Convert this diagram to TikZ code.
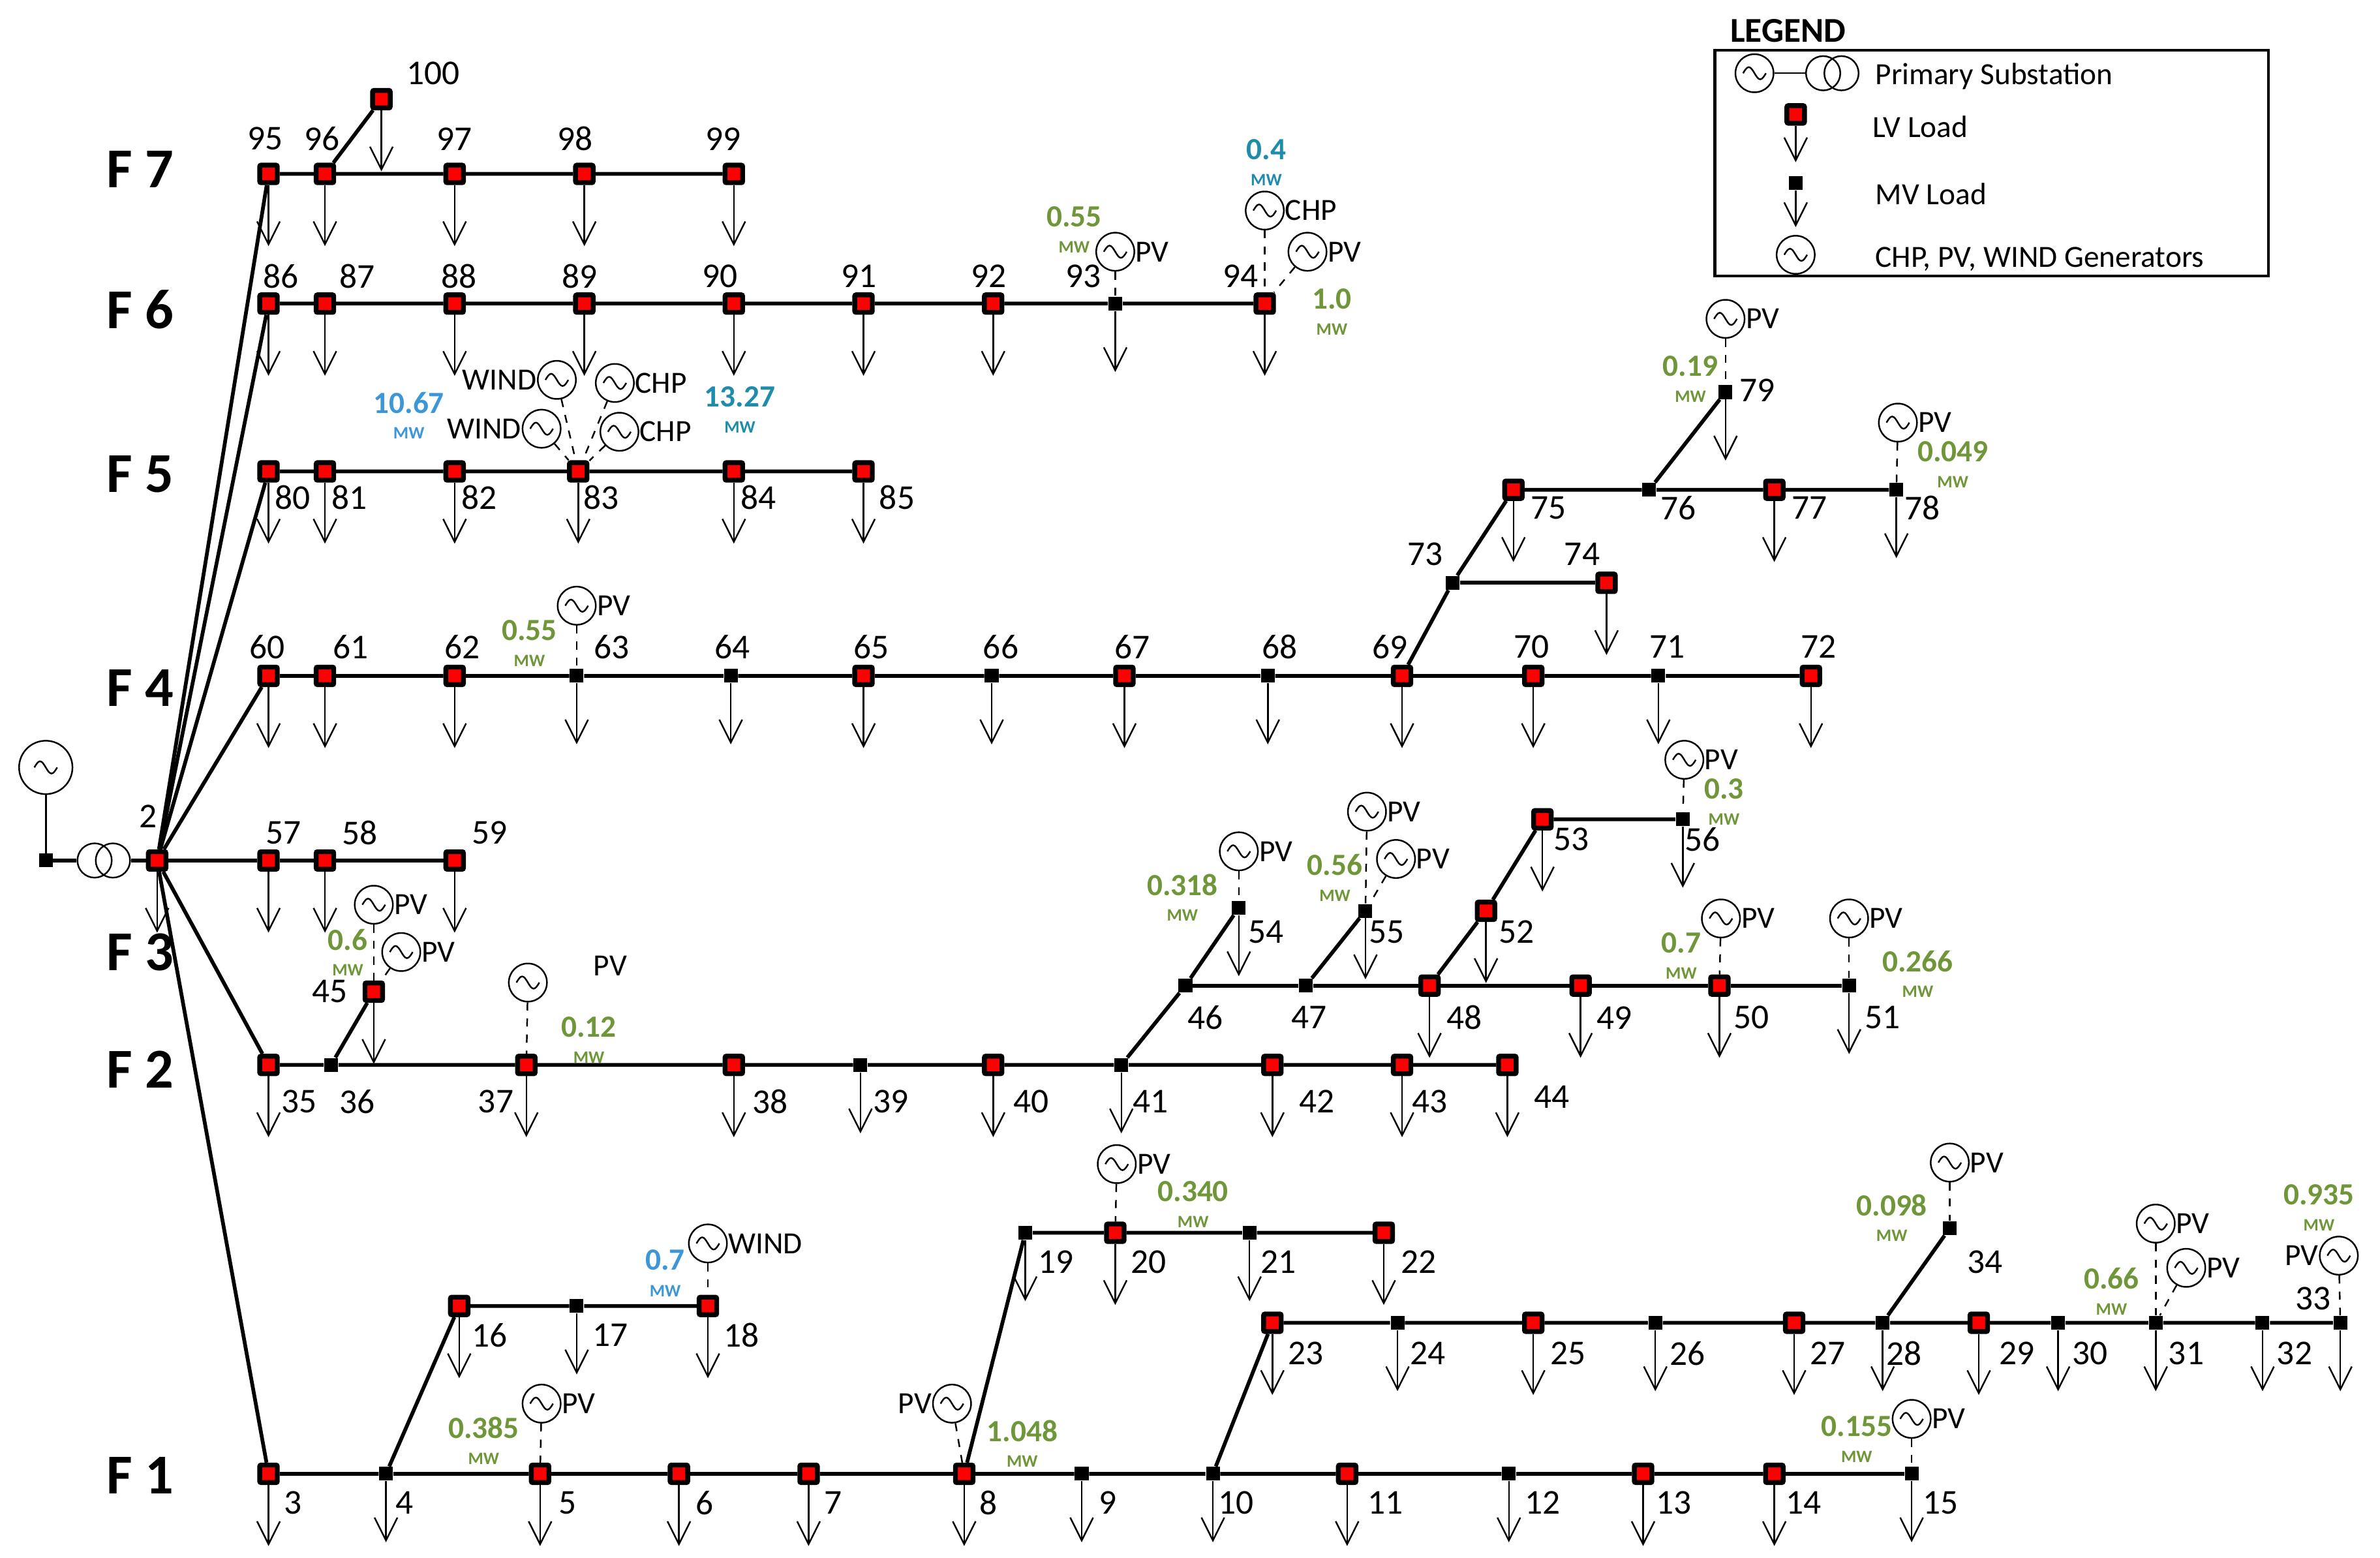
\documentclass[tikz,border=0pt]{standalone}
\usepackage{fontspec}
\setmainfont{Carlito}
\usetikzlibrary{arrows.meta}
\definecolor{vgreen}{RGB}{112,150,58}
\definecolor{vblue}{RGB}{60,150,215}
\definecolor{vteal}{RGB}{30,140,170}
\tikzset{
 lv/.style={draw=black,fill=red,line width=1.8pt,minimum size=0.23cm,inner sep=0pt,rounded corners=0.5pt},
 mv/.style={fill=black,minimum size=0.18cm,inner sep=0pt},
 feed/.style={line width=1.4pt},
 load/.style={line width=0.6pt,-{Straight Barb[length=0.3cm,width=0.3cm,line width=0.6pt]}},
 gen/.style={circle,draw,line width=0.6pt,minimum size=0.5cm,inner sep=0pt,path picture={\draw[line width=0.6pt] ([xshift=-0.15cm]path picture bounding box.center) sin ++(0.075cm,0.08cm) cos ++(0.075cm,-0.08cm) sin ++(0.075cm,-0.08cm) cos ++(0.075cm,0.08cm);}},
 gl/.style={dashed,line width=0.6pt},
 num/.style={font=\fontsize{13}{15}\selectfont,inner sep=0pt},
 fl/.style={font=\bfseries\fontsize{21}{24}\selectfont,inner sep=0pt},
 val/.style={font=\bfseries\fontsize{11.5}{13}\selectfont,inner sep=0pt},
 mw/.style={font=\bfseries\fontsize{6.5}{7}\selectfont,inner sep=0pt},
 gt/.style={font=\fontsize{11.5}{13}\selectfont,inner sep=0pt},
}
\newcommand\LV[3]{\node[lv] (n#1) at (#2,#3) {};}
\newcommand\MV[3]{\node[mv] (n#1) at (#2,#3) {};}
\newcommand\ld[1]{\draw[load] (n#1.south) -- ++(0,40);}
\newcommand\nl[3]{\node[num] (l#1) at (#2,#3) {#1};}
\newcommand\GR[5]{\node[gen] (#1) at (#2,#3) {}; \draw[gl] (#1) -- (n#4); \node[gt,anchor=west] (#1t) at (#1.east) {#5};}
\newcommand\GL[5]{\node[gen] (#1) at (#2,#3) {}; \draw[gl] (#1) -- (n#4); \node[gt,anchor=east] (#1t) at (#1.west) {#5};}
\newcommand\V[5]{\node[val,text=#2] (#1) at (#3,#4) {#5}; \node[mw,text=#2] (#1m) at (#3,#4+20) {MW};}
\begin{document}
\begin{tikzpicture}[x=0.02cm,y=-0.02cm]
\useasboundingbox (0,0) rectangle (1560,1021);
% substation
\node[gen,minimum size=0.7cm] (sg) at (30,503) {};
\node[mv] (s0) at (30,564) {};
\draw[line width=0.8pt] (sg) -- (s0);
\node[circle,draw,line width=0.6pt,minimum size=0.45cm] (t1) at (62,564) {};
\node[circle,draw,line width=0.6pt,minimum size=0.45cm] (t2) at (74,564) {};
\LV{2}{103}{564} \nl{2}{97}{535} \ld{2}
\draw[feed] (s0) -- (t1); \draw[feed] (t2) -- (n2);
% feeder labels
\node[fl] (F7) at (92,111) {F 7};
\node[fl] (F6) at (92,203) {F 6};
\node[fl] (F5) at (92,311) {F 5};
\node[fl] (F4) at (92,451) {F 4};
\node[fl] (F3) at (92,624) {F 3};
\node[fl] (F2) at (92,701) {F 2};
\node[fl] (F1) at (92,967) {F 1};
% F7
\LV{95}{176}{114} \LV{96}{213}{114} \LV{97}{298}{114} \LV{98}{383}{114} \LV{99}{481}{114} \LV{100}{250}{65}
\nl{95}{174}{91} \nl{96}{211}{91} \nl{97}{298}{91} \nl{98}{377}{91} \nl{99}{474}{91} \nl{100}{284}{48}
\draw[feed] (n2)--(n95)--(n96)--(n97)--(n98)--(n99); \draw[feed] (n96)--(n100);
\foreach \i in {95,...,100} {\ld{\i}}
% F6
\LV{86}{176}{199} \LV{87}{213}{199} \LV{88}{298}{199} \LV{89}{383}{199} \LV{90}{481}{199} \LV{91}{566}{199} \LV{92}{651}{199} \MV{93}{731}{199} \LV{94}{829}{199}
\nl{86}{184}{181} \nl{87}{234}{181} \nl{88}{301}{181} \nl{89}{380}{181} \nl{90}{472}{181} \nl{91}{563}{181} \nl{92}{648}{181} \nl{93}{710}{181} \nl{94}{813}{181}
\draw[feed] (n2)--(n86)--(n87)--(n88)--(n89)--(n90)--(n91)--(n92)--(n93)--(n94);
\foreach \i in {86,...,94} {\ld{\i}}
\GR{g93}{731}{165}{93}{PV} \V{v93}{vgreen}{704}{142}{0.55}
\GR{g94a}{829}{138}{94}{CHP} \V{v94a}{vteal}{830}{98}{0.4}
\GR{g94b}{857}{165}{94}{PV} \V{v94b}{vgreen}{873}{196}{1.0}
% F5
\LV{80}{176}{309} \LV{81}{213}{309} \LV{82}{298}{309} \LV{83}{379}{309} \LV{84}{481}{309} \LV{85}{566}{309}
\nl{80}{192}{326} \nl{81}{229}{326} \nl{82}{314}{326} \nl{83}{394}{326} \nl{84}{497}{326} \nl{85}{588}{326}
\draw[feed] (n2)--(n80)--(n81)--(n82)--(n83)--(n84)--(n85);
\foreach \i in {80,...,85} {\ld{\i}}
\GL{g83a}{365}{249}{83}{WIND} \GR{g83b}{403}{251}{83}{CHP}
\GL{g83c}{355}{281}{83}{WIND} \GR{g83d}{406}{283}{83}{CHP}
\V{v83a}{vblue}{268}{264}{10.67} \V{v83b}{vteal}{485}{260}{13.27}
% F4
\LV{60}{176}{443} \LV{61}{213}{443} \LV{62}{298}{443} \MV{63}{378}{443} \MV{64}{479}{443} \LV{65}{566}{443} \MV{66}{650}{443} \LV{67}{737}{443} \MV{68}{831}{443} \LV{69}{919}{443} \LV{70}{1005}{443} \MV{71}{1087}{443} \LV{72}{1187}{443}
\nl{60}{175}{424} \nl{61}{230}{424} \nl{62}{303}{424} \nl{63}{401}{424} \nl{64}{480}{424} \nl{65}{571}{424} \nl{66}{656}{424} \nl{67}{742}{424} \nl{68}{839}{424} \nl{69}{911}{424} \nl{70}{1004}{424} \nl{71}{1093}{424} \nl{72}{1192}{424}
\draw[feed] (n2)--(n60)--(n61)--(n62)--(n63)--(n64)--(n65)--(n66)--(n67)--(n68)--(n69)--(n70)--(n71)--(n72);
\foreach \i in {60,...,72} {\ld{\i}}
\GR{g63}{378}{397}{63}{PV} \V{v63}{vgreen}{347}{413}{0.55}
\MV{73}{952}{382} \LV{74}{1053}{382} \LV{75}{992}{321} \MV{76}{1081}{321} \LV{77}{1163}{321} \MV{78}{1243}{321} \MV{79}{1131}{257}
\nl{73}{934}{363} \nl{74}{1037}{363} \nl{75}{1015}{333} \nl{76}{1100}{333} \nl{77}{1186}{333} \nl{78}{1260}{333} \nl{79}{1152}{256}
\draw[feed] (n69)--(n73)--(n75)--(n76)--(n77)--(n78); \draw[feed] (n73)--(n74); \draw[feed] (n76)--(n79);
\ld{74} \ld{75} \ld{77} \ld{78} \ld{79}
\GR{g79}{1131}{209}{79}{PV} \V{v79}{vgreen}{1108}{240}{0.19}
\GR{g78}{1244}{277}{78}{PV} \V{v78}{vgreen}{1280}{296}{0.049}
% F3
\LV{57}{176}{564} \LV{58}{213}{564} \LV{59}{298}{564}
\nl{57}{186}{546} \nl{58}{236}{546} \nl{59}{321}{546}
\draw[feed] (n2)--(n57)--(n58)--(n59);
\ld{57} \ld{58} \ld{59}
% F2
\LV{35}{176}{698} \MV{36}{217}{698} \LV{37}{345}{698} \LV{38}{481}{698} \MV{39}{564}{698} \LV{40}{651}{698} \MV{41}{735}{698} \LV{42}{834}{698} \LV{43}{919}{698} \LV{44}{988}{698}
\nl{35}{196}{722} \nl{36}{234}{722} \nl{37}{325}{722} \nl{38}{505}{722} \nl{39}{584}{722} \nl{40}{676}{722} \nl{41}{754}{722} \nl{42}{863}{722} \nl{43}{937}{722} \nl{44}{1017}{719}
\draw[feed] (n2)--(n35)--(n36)--(n37)--(n38)--(n39)--(n40)--(n41)--(n42)--(n43)--(n44);
\ld{35} \ld{37} \ld{38} \ld{39} \ld{40} \ld{41} \ld{42} \ld{43} \ld{44}
\LV{45}{245}{650} \nl{45}{216}{650} \draw[feed] (n36)--(n45); \ld{45}
\GR{g45a}{245}{593}{45}{PV} \GR{g45b}{263}{624}{45}{PV} \V{v45}{vgreen}{228}{616}{0.6}
\node[gen] (g37) at (346,644) {}; \draw[gl] (g37)--(n37); \node[gt] (g37t) at (400,633) {PV}; \V{v37}{vgreen}{386}{673}{0.12}
\MV{46}{777}{646} \MV{54}{812}{595} \MV{47}{856}{646} \LV{48}{937}{646} \LV{49}{1036}{646} \LV{50}{1127}{646} \MV{51}{1212}{646}
\MV{55}{895}{597} \LV{52}{974}{597} \LV{53}{1011}{537} \MV{56}{1103}{537}
\nl{46}{790}{667} \nl{47}{858}{667} \nl{48}{960}{667} \nl{49}{1058}{667} \nl{50}{1148}{667} \nl{51}{1234}{667}
\nl{54}{830}{611} \nl{55}{909}{611} \nl{52}{994}{611} \nl{53}{1030}{550} \nl{56}{1116}{550}
\draw[feed] (n41)--(n46)--(n54); \draw[feed] (n46)--(n47)--(n48)--(n49)--(n50)--(n51);
\draw[feed] (n47)--(n55); \draw[feed] (n48)--(n52)--(n53)--(n56);
\ld{54} \ld{55} \ld{48} \ld{52} \ld{53} \ld{49} \ld{50} \ld{51} \ld{56}
\GR{g54}{812}{558}{54}{PV} \V{v54}{vgreen}{775}{580}{0.318}
\GR{g55a}{896}{532}{55}{PV} \GR{g55b}{915}{563}{55}{PV} \V{v55}{vgreen}{875}{567}{0.56}
\GR{g56}{1104}{498}{56}{PV} \V{v56}{vgreen}{1130}{517}{0.3}
\GR{g50}{1128}{602}{50}{PV} \V{v50}{vgreen}{1102}{618}{0.7}
\GR{g51}{1212}{602}{51}{PV} \V{v51}{vgreen}{1257}{630}{0.266}
% F1
\LV{3}{176}{966} \MV{4}{253}{966} \LV{5}{354}{966} \LV{6}{445}{966} \LV{7}{530}{966} \LV{8}{632}{966} \MV{9}{709}{966} \MV{10}{795}{966} \LV{11}{883}{966} \MV{12}{989}{966} \LV{13}{1077}{966} \LV{14}{1163}{966} \MV{15}{1253}{966}
\nl{3}{192}{985} \nl{4}{265}{985} \nl{5}{372}{985} \nl{6}{462}{985} \nl{7}{546}{985} \nl{8}{648}{985} \nl{9}{726}{985} \nl{10}{810}{985} \nl{11}{908}{985} \nl{12}{1011}{985} \nl{13}{1097}{985} \nl{14}{1182}{985} \nl{15}{1272}{985}
\draw[feed] (n2)--(n3)--(n4)--(n5)--(n6)--(n7)--(n8)--(n9)--(n10)--(n11)--(n12)--(n13)--(n14)--(n15);
\foreach \i in {3,...,15} {\ld{\i}}
\LV{16}{301}{856} \MV{17}{378}{856} \LV{18}{464}{856}
\nl{16}{321}{875} \nl{17}{400}{875} \nl{18}{486}{875}
\draw[feed] (n4)--(n16)--(n17)--(n18); \ld{16} \ld{17} \ld{18}
\GR{g18}{464}{815}{18}{WIND} \V{v18}{vblue}{436}{826}{0.7}
\GR{g5}{355}{920}{5}{PV} \V{v5}{vgreen}{317}{936}{0.385}
\GL{g8}{624}{920}{8}{PV} \V{v8}{vgreen}{670}{938}{1.048}
\GR{g15}{1253}{930}{15}{PV} \V{v15}{vgreen}{1217}{935}{0.155}
\MV{19}{672}{808} \LV{20}{731}{808} \MV{21}{819}{808} \LV{22}{907}{808}
\nl{19}{692}{827} \nl{20}{753}{827} \nl{21}{838}{827} \nl{22}{930}{827}
\draw[feed] (n8)--(n19)--(n20)--(n21)--(n22); \ld{19} \ld{20} \ld{21} \ld{22}
\GR{g20}{732}{763}{20}{PV} \V{v20}{vgreen}{782}{781}{0.340}
\LV{23}{834}{867} \MV{24}{916}{867} \LV{25}{1005}{867} \MV{26}{1085}{867} \LV{27}{1176}{867} \MV{28}{1234}{867} \LV{29}{1297}{867} \MV{30}{1349}{867} \MV{31}{1413}{867} \MV{32}{1483}{867} \MV{33}{1534}{867}
\nl{23}{856}{887} \nl{24}{936}{887} \nl{25}{1028}{887} \nl{26}{1106}{887} \nl{27}{1198}{887} \nl{28}{1248}{887} \nl{29}{1322}{887} \nl{30}{1370}{887} \nl{31}{1433}{887} \nl{32}{1504}{887} \nl{33}{1516}{851}
\draw[feed] (n10)--(n23)--(n24)--(n25)--(n26)--(n27)--(n28)--(n29)--(n30)--(n31)--(n32)--(n33);
\foreach \i in {23,...,33} {\ld{\i}}
\MV{34}{1278}{805} \nl{34}{1301}{827} \draw[feed] (n28)--(n34);
\GR{g34}{1278}{762}{34}{PV} \V{v34}{vgreen}{1240}{790}{0.098}
\GR{g31a}{1413}{802}{31}{PV} \GR{g31b}{1433}{831}{31}{PV} \V{v31}{vgreen}{1384}{838}{0.66}
\GL{g33}{1533}{823}{33}{PV} \V{v33}{vgreen}{1520}{783}{0.935}
% legend
\node[font=\bfseries\fontsize{13}{15}\selectfont,inner sep=0pt] (legt) at (1172,20) {LEGEND};
\draw[line width=1pt] (1124,33) rectangle (1487,181);
\node[gen] (lg1) at (1150,48) {};
\node[circle,draw,line width=0.6pt,minimum size=0.45cm] (lt1) at (1195,48) {};
\node[circle,draw,line width=0.6pt,minimum size=0.45cm] (lt2) at (1207,48) {};
\draw[line width=0.6pt] (lg1) -- (lt1);
\node[gt,anchor=west] (lx1) at (1229,50) {Primary Substation};
\LV{leg1}{1177}{75} \draw[load] (nleg1.south) -- ++(0,24);
\node[gt,anchor=west] (lx2) at (1227,83) {LV Load};
\MV{leg2}{1177}{120} \draw[load] (nleg2.south) -- ++(0,24);
\node[gt,anchor=west] (lx3) at (1229,127) {MV Load};
\node[gen] (lg2) at (1177,167) {};
\node[gt,anchor=west] (lx4) at (1229,170) {CHP, PV, WIND Generators};
\end{tikzpicture}
\end{document}
